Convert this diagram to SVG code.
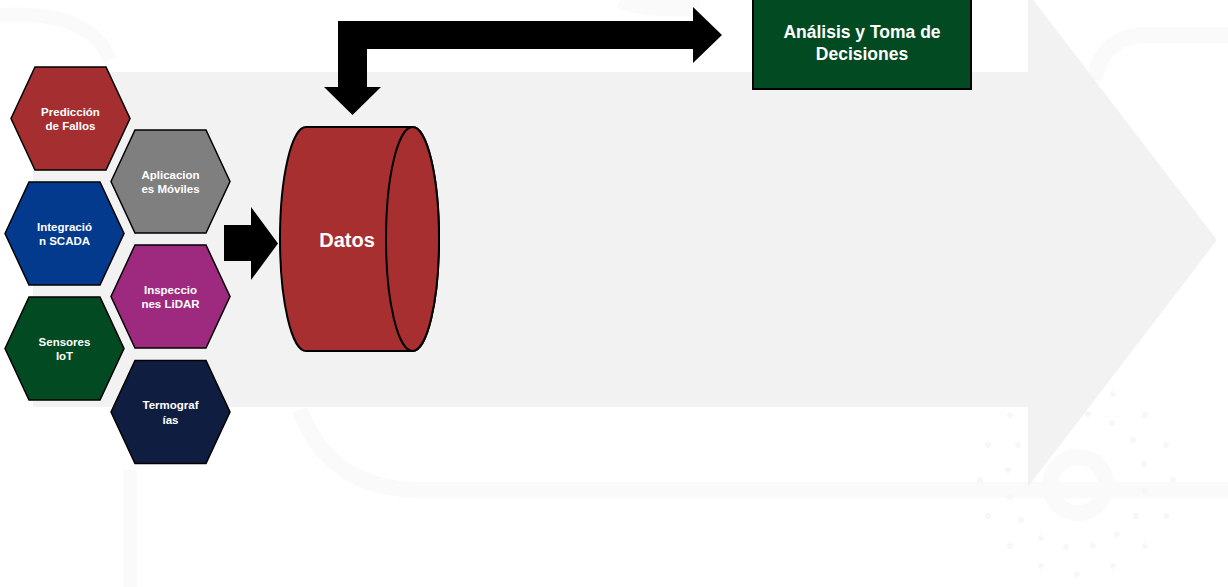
<svg xmlns="http://www.w3.org/2000/svg" width="1228" height="587" viewBox="0 0 1228 587">
<style>
.hex{stroke:#000;stroke-width:1.5}
.ht{font-family:"Liberation Sans",Arial,sans-serif;font-weight:bold;font-size:11.5px;fill:#fff;text-anchor:middle}
.bt{font-family:"Liberation Sans",Arial,sans-serif;font-weight:bold;fill:#fff;text-anchor:middle}
.arr{fill:#000}
.wm{fill:none;stroke:#FAFAFA}
</style>
<rect width="1228" height="587" fill="#fff"/>
<g id="watermark">
<path class="wm" stroke-width="14" d="M0,15 Q90,10 110,60"/>
<path class="wm" stroke-width="14" d="M130,587 L130,470"/>
<path class="wm" stroke-width="16" d="M300,410 Q330,490 420,490 L1228,490"/>
<path class="wm" stroke-width="16" d="M1228,35 L1140,35 Q1100,40 1095,80"/>
<path class="wm" stroke-width="16" d="M620,0 Q640,10 700,8"/>
<circle class="wm" cx="1078" cy="485" r="28" stroke-width="16"/>
<g fill="#F7F7F7">
<circle cx="1010" cy="415" r="3"/><circle cx="988" cy="445" r="3"/><circle cx="1018" cy="445" r="3"/>
<circle cx="1008" cy="470" r="3"/><circle cx="980" cy="480" r="3"/><circle cx="1010" cy="497" r="3"/>
<circle cx="988" cy="516" r="3"/><circle cx="1021" cy="520" r="3"/><circle cx="1010" cy="546" r="3"/>
<circle cx="1041" cy="538" r="3"/><circle cx="1066" cy="547" r="3"/><circle cx="1093" cy="546" r="3"/>
<circle cx="1041" cy="566" r="3"/><circle cx="1077" cy="574" r="3"/><circle cx="1113" cy="566" r="3"/>
<circle cx="1117" cy="534" r="3"/><circle cx="1136" cy="516" r="3"/><circle cx="1166" cy="516" r="3"/>
<circle cx="1145" cy="546" r="3"/><circle cx="1145" cy="491" r="3"/><circle cx="1173" cy="480" r="3"/>
<circle cx="1144" cy="464" r="3"/><circle cx="1133" cy="440" r="3"/><circle cx="1166" cy="445" r="3"/>
<circle cx="1145" cy="415" r="3"/><circle cx="1112" cy="423" r="3"/><circle cx="1113" cy="394" r="3"/>
<circle cx="1088" cy="414" r="3"/>
</g>
</g>
<g id="bigArrow">
<polygon fill="#F2F2F2" points="33,72 1028,72 1028,-7 1217,240 1028,487 1028,407 33,407"/>
</g>
<g id="connectors">
<polygon class="arr" points="224,225 251,225 251,207 278,243.5 251,280 251,261 224,261"/>
<polygon class="arr" points="338,21 693,21 693,7 722,35 693,63 693,49 367,49 367,87 381,87 352.5,115 324,87 338,87"/>
</g>
<g id="n-prediccion">
<polygon class="hex" fill="#A52F30" points="11,118.5 35,67 106,67 130,118.5 106,170 35,170"/>
<text class="ht" x="70.5" y="116">Predicción</text><text class="ht" x="70.5" y="130">de Fallos</text>
</g>
<g id="n-aplicaciones">
<polygon class="hex" fill="#7F7F7F" points="111,181.5 135,130 206,130 230,181.5 206,233 135,233"/>
<text class="ht" x="170.5" y="179">Aplicacion</text><text class="ht" x="170.5" y="193">es Móviles</text>
</g>
<g id="n-integracion">
<polygon class="hex" fill="#033A8E" points="5,233.5 29,182 100,182 124,233.5 100,285 29,285"/>
<text class="ht" x="64.5" y="231">Integració</text><text class="ht" x="64.5" y="245">n SCADA</text>
</g>
<g id="n-inspecciones">
<polygon class="hex" fill="#9E2A7F" points="111,296.5 135,245 206,245 230,296.5 206,348 135,348"/>
<text class="ht" x="170.5" y="294">Inspeccio</text><text class="ht" x="170.5" y="308">nes LiDAR</text>
</g>
<g id="n-sensores">
<polygon class="hex" fill="#024A22" points="5,348.5 29,297 100,297 124,348.5 100,400 29,400"/>
<text class="ht" x="64.5" y="346">Sensores</text><text class="ht" x="64.5" y="360">IoT</text>
</g>
<g id="n-termografias">
<polygon class="hex" fill="#0F1E40" points="111,412 135,360.5 206,360.5 230,412 206,463.5 135,463.5"/>
<text class="ht" x="170.5" y="409">Termograf</text><text class="ht" x="170.5" y="424">ías</text>
</g>
<g id="n-datos">
<path fill="#A82F30" stroke="#000" stroke-width="2" d="M306,127 L412.5,127 A26.5,112 0 0 1 412.5,351 L306,351 A26,112 0 0 1 306,127 Z"/>
<ellipse cx="412.5" cy="239" rx="26.5" ry="112" fill="#A82F30" stroke="#000" stroke-width="2"/>
<text class="bt" x="347" y="247" font-size="20">Datos</text>
</g>
<g id="n-analisis">
<rect x="753" y="-3" width="218" height="92" fill="#024A22" stroke="#000" stroke-width="2"/>
<text class="bt" x="862" y="38" font-size="17.5">Análisis y Toma de</text>
<text class="bt" x="862" y="60" font-size="17.5">Decisiones</text>
</g>
</svg>
